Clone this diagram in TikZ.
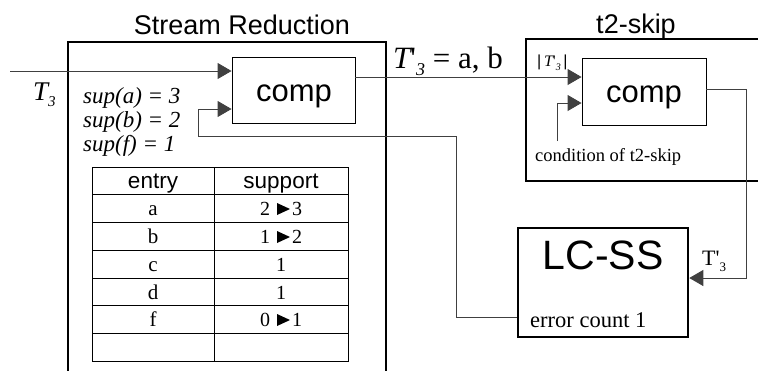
\documentclass[tikz,border=0pt]{standalone}
\usepackage{fontspec}
\setmainfont{Liberation Serif}
\setsansfont{Liberation Sans}
\usetikzlibrary{arrows.meta}
\tikzset{
  thinbox/.style={draw, line width=0.9pt, inner sep=0pt},
  thickbox/.style={draw, line width=2.6pt, inner sep=0pt},
  frame/.style={line width=2.8pt},
  conn/.style={draw=black!75, line width=0.9pt},
  arr/.style={conn, -{Triangle[length=14pt,width=16pt]}},
  tab/.style={line width=0.8pt},
  lbl/.style={inner sep=0pt},
}
\newcommand{\qq}{\textquotesingle}
\newcommand{\tri}{\tikz[baseline=0pt]\fill (0,0) -- (0,12pt) -- (13pt,6pt) -- cycle;}
\begin{document}
\begin{tikzpicture}[x=1pt,y=-1pt]
\useasboundingbox (0,0) rectangle (758,370);
% frames
\draw[frame] (68,372) |- (386,42) -- (386,372);
\draw[frame] (760,39) -| (526,181) -- (760,181);
\node[lbl,font=\sffamily\fontsize{27}{27}\selectfont, anchor=base] (srt) at (242,34) {Stream Reduction};
\node[lbl,font=\sffamily\fontsize{27}{27}\selectfont, anchor=base] (tst) at (636,33) {t2-skip};
% boxes
\node[thinbox, minimum width=123pt, minimum height=66pt] (c1) at (293.5,90) {};
\node[lbl, font=\sffamily\fontsize{31}{31}\selectfont, anchor=base] (c1t) at (294,101) {comp};
\node[thinbox, minimum width=124pt, minimum height=67pt] (c2) at (644,91.5) {};
\node[lbl, font=\sffamily\fontsize{31}{31}\selectfont, anchor=base] (c2t) at (644,102) {comp};
\node[thickbox, minimum width=170pt, minimum height=109pt] (lc) at (603,282.5) {};
\node[lbl, font=\sffamily\fontsize{41}{41}\selectfont, anchor=base] (lct) at (603,269) {LC-SS};
\node[lbl, font=\fontsize{22.5}{22.5}\selectfont, anchor=base west] (err) at (530,327) {error count 1};
% connectors
\coordinate (tin) at (10,71);
\draw[arr] (tin) -- (tin -| c1.west);
\coordinate (o1) at (355,77);
\draw[arr] (c1.east |- o1) -- (c2.west |- o1);
\coordinate (r1) at (746,89);
\coordinate (r2) at (746,278);
\draw[arr] (c2.east |- r1) -- (r1) -- (r2) -- (lc.east |- r2);
\coordinate (f1) at (456,317);
\coordinate (f2) at (456,136);
\coordinate (f3) at (198,136);
\coordinate (f4) at (198,109);
\draw[arr] (lc.west |- f1) -- (f1) -- (f2) -- (f3) -- (f4) -- (c1.west |- f4);
\coordinate (g1) at (557,141);
\coordinate (g2) at (557,103);
\draw[arr] (g1) -- (g2) -- (c2.west |- g2);
% labels
\node[lbl, font=\fontsize{27}{27}\selectfont, anchor=base west] (t3) at (33,100) {{\itshape T}\raisebox{-0.5ex}{\itshape\fontsize{15}{15}\selectfont 3}};
\node[lbl, font=\fontsize{23}{24}\selectfont\itshape, anchor=base west] (s1) at (83,103) {sup(a) = 3};
\node[lbl, font=\fontsize{23}{24}\selectfont\itshape, anchor=base west] (s2) at (83,127) {sup(b) = 2};
\node[lbl, font=\fontsize{23}{24}\selectfont\itshape, anchor=base west] (s3) at (83,151) {sup(f) = 1};
\node[lbl, font=\fontsize{31}{31}\selectfont, anchor=base west] (tpab) at (393,68) {{\itshape T}\qq\raisebox{-0.55ex}{\itshape\fontsize{18}{18}\selectfont 3} = a, b};
\node[lbl, font=\fontsize{16}{16}\selectfont, anchor=base west] (tabs) at (537,66) {\textsf{|}\,{\itshape T}\qq\raisebox{-0.6ex}{\itshape\fontsize{10}{10}\selectfont 3}\,\textsf{|}};
\node[lbl, font=\fontsize{18.5}{18.5}\selectfont, anchor=base west] (cond) at (535,161) {condition of t2-skip};
\node[lbl, font=\fontsize{22}{22}\selectfont, anchor=base west] (tp2) at (702,265) {T\qq\raisebox{-0.6ex}{\fontsize{13}{13}\selectfont 3}};
% table
\draw[tab] (92,167) rectangle (348,361);
\draw[tab] (214,167) -- (214,361);
\foreach \y in {194,222,250,278,305,333} \draw[tab] (92,\y) -- (348,\y);
\node[lbl, font=\sffamily\fontsize{22.5}{22.5}\selectfont, anchor=base] (h1) at (153,188) {entry};
\node[lbl, font=\sffamily\fontsize{22.5}{22.5}\selectfont, anchor=base] (h2) at (281,188) {support};
\node[lbl, font=\fontsize{21}{21}\selectfont, anchor=base] (ea) at (153,215) {a};
\node[lbl, font=\fontsize{21}{21}\selectfont, anchor=base] (eb) at (153,243) {b};
\node[lbl, font=\fontsize{21}{21}\selectfont, anchor=base] (ec) at (153,271) {c};
\node[lbl, font=\fontsize{21}{21}\selectfont, anchor=base] (ed) at (153,299) {d};
\node[lbl, font=\fontsize{21}{21}\selectfont, anchor=base] (ef) at (153,326) {f};
\node[lbl, font=\fontsize{20}{20}\selectfont, anchor=base] (sa) at (281,215) {2\hspace{7pt}\tri\hspace{2pt}3};
\node[lbl, font=\fontsize{20}{20}\selectfont, anchor=base] (sb) at (281,243) {1\hspace{7pt}\tri\hspace{2pt}2};
\node[lbl, font=\fontsize{20}{20}\selectfont, anchor=base] (sc) at (281,271) {1};
\node[lbl, font=\fontsize{20}{20}\selectfont, anchor=base] (sd) at (281,299) {1};
\node[lbl, font=\fontsize{20}{20}\selectfont, anchor=base] (sf) at (281,326) {0\hspace{7pt}\tri\hspace{2pt}1};
\end{tikzpicture}
\end{document}
